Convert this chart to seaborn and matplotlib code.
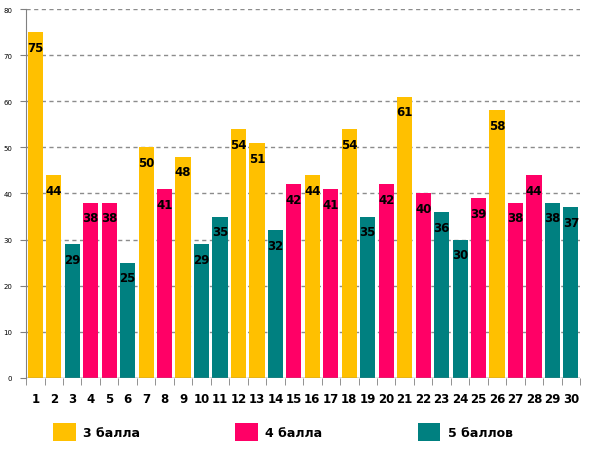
import numpy as np
import pandas as pd
import matplotlib
matplotlib.use("Agg")
import matplotlib.pyplot as plt
import seaborn as sns

tasks = [str(i) for i in range(1, 31)]
scores = [75, 44, 29, 38, 38, 25, 50, 41, 48, 29,
          35, 54, 51, 32, 42, 44, 41, 54, 35, 42,
          61, 40, 36, 30, 39, 58, 38, 44, 38, 37]
grades = ["3 балла", "3 балла", "5 баллов", "4 балла", "4 балла", "5 баллов",
          "3 балла", "4 балла", "3 балла", "5 баллов", "5 баллов", "3 балла",
          "3 балла", "5 баллов", "4 балла", "3 балла", "4 балла", "3 балла",
          "5 баллов", "4 балла", "3 балла", "4 балла", "5 баллов", "5 баллов",
          "4 балла", "3 балла", "4 балла", "4 балла", "5 баллов", "5 баллов"]
grade_order = ["3 балла", "4 балла", "5 баллов"]
palette = {"3 балла": "#FFC000", "4 балла": "#FF0066", "5 баллов": "#008080"}

df = pd.DataFrame({"task": tasks, "score": scores, "grade": grades})

sns.set_style("white")
plt.rcParams["font.family"] = ["DejaVu Sans"]

fig = plt.figure(figsize=(5.92, 4.56), dpi=100)
ax = fig.add_axes([0.044, 0.169, 0.936, 0.809])

sns.barplot(data=df, x="task", y="score", hue="grade", hue_order=grade_order,
            palette=palette, dodge=False, width=0.82, saturation=1,
            edgecolor="none", legend=True, ax=ax)

ax.set_ylim(0, 80)
ax.set_xlim(-0.5, len(tasks) - 0.5)
ax.set_yticks(range(0, 81, 10))
ax.yaxis.grid(True, linestyle=(0, (3, 2.5)), color="#8c8c8c", linewidth=1)
ax.set_axisbelow(True)
ax.set_xlabel("")
ax.set_ylabel("")
for s in ["top", "right", "bottom"]:
    ax.spines[s].set_visible(False)
ax.spines["left"].set_color("#808080")
ax.axhline(0, color="#808080", linewidth=1, zorder=3)

ax.tick_params(axis="y", labelsize=5, length=4, color="#808080", left=True, pad=6,
               labelcolor="black")
ax.tick_params(axis="x", which="major", length=0, labelsize=8.5, pad=10,
               labelcolor="black")
ax.set_xticks(np.arange(-0.5, len(tasks), 1), minor=True)
ax.tick_params(axis="x", which="minor", length=5, color="#808080", bottom=True)
for lbl in ax.get_xticklabels():
    lbl.set_fontweight("bold")

for cont in ax.containers:
    for bar in cont:
        h = bar.get_height()
        if np.isnan(h) or h == 0:
            continue
        ax.annotate(f"{int(h)}", (bar.get_x() + bar.get_width() / 2, h),
                    xytext=(0, -11), textcoords="offset points",
                    ha="center", va="center", fontsize=8.5, fontweight="bold",
                    color="black")

handles, labels = ax.get_legend_handles_labels()
ax.get_legend().remove()
fig.legend(handles, labels, loc="center", bbox_to_anchor=(0.478, 0.05), ncol=3,
           frameon=False, handlelength=1.8, handleheight=1.8, columnspacing=7.6,
           handletextpad=0.6, labelcolor="black",
           prop={"weight": "bold", "size": 9})

fig.savefig("out.png", dpi=100)
plt.close()
